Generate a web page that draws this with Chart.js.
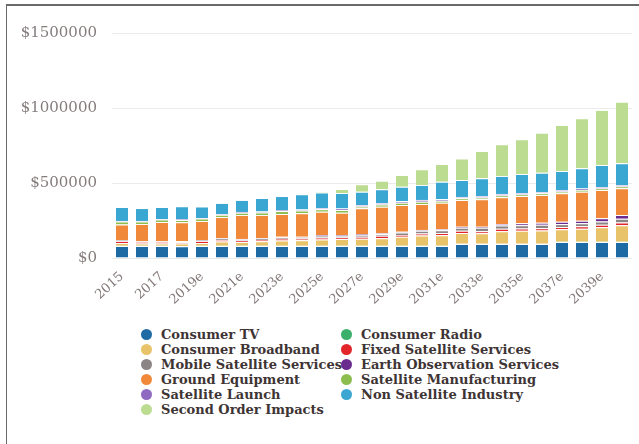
<!DOCTYPE html>
<html lang="en">
<head>
    <meta charset="UTF-8">
    <title>Satellite Industry Impacts</title>
    <script src="https://cdn.jsdelivr.net/npm/chart.js"></script>
    <style>
        body { margin: 0; background: #fff; }
        #frame {
            position: absolute; left: 6px; top: 4px; width: 640px; height: 450px;
            border-top: 2px solid #6a6a6a; border-left: 1px solid #6a6a6a;
        }
        #wrap { position: absolute; left: 0; top: 0; width: 639px; height: 320px; }
        #legend {
            position: absolute; left: 141px; top: 327px;
            display: grid; grid-template-columns: 200px 200px; grid-auto-rows: 15px;
            font: bold 13px "DejaVu Serif", serif; color: #3e3434;
        }
        #legend div { display: flex; align-items: center; white-space: nowrap; }
        #legend span.dot { width: 11px; height: 11px; border-radius: 50%; margin-right: 9px; flex: none; }
    </style>
</head>
<body>
    <div id="frame"></div>
    <div id="wrap"><canvas id="impactChart"></canvas></div>
    <div id="legend"></div>

    <script>
        // values in thousands of dollars
        const years = ['2015', '2016', '2017', '2018e', '2019e', '2020e', '2021e', '2022e', '2023e',
            '2024e', '2025e', '2026e', '2027e', '2028e', '2029e', '2030e', '2031e', '2032e', '2033e',
            '2034e', '2035e', '2036e', '2037e', '2038e', '2039e', '2040e'];

        const consumerTV = [80, 80, 80, 78, 80, 80, 80, 80, 80, 80, 80, 80, 80, 80, 80, 80, 80, 93, 93, 93, 93, 93, 107, 107, 107, 107];
        const consumerRadio = [2, 2, 2, 2, 2, 2, 2, 2, 2, 2, 2, 2, 2, 2, 2, 2, 2, 2, 2, 2, 2, 2, 2, 2, 2, 2];
        const consumerBroadband = [18, 14, 14, 16, 18, 28, 24, 30, 35, 36, 42, 44, 46, 50, 60, 68, 70, 72, 70, 84, 86, 88, 82, 86, 96, 110];
        const fixedSatellite = [14, 12, 12, 9, 14, 10, 10, 8, 12, 12, 13, 10, 14, 16, 12, 14, 15, 14, 14, 16, 16, 16, 15, 16, 16, 18];
        const mobileSatellite = [4, 4, 4, 5, 5, 10, 8, 10, 10, 9, 12, 13, 12, 12, 16, 17, 18, 20, 22, 22, 22, 22, 20, 20, 22, 24];
        const earthObservation = [2, 1, 1, 1, 1, 3, 3, 3, 3, 3, 4, 4, 4, 5, 5, 6, 6, 8, 8, 10, 12, 14, 16, 18, 22, 26];
        const groundEquipment = [103, 114, 127, 127, 127, 140, 160, 154, 151, 156, 156, 149, 173, 177, 178, 173, 178, 178, 182, 178, 182, 185, 189, 193, 188, 178];
        const satManufacturing = [20, 16, 16, 16, 16, 15, 15, 17, 20, 18, 16, 18, 12, 14, 15, 15, 13, 11, 12, 12, 11, 11, 12, 12, 11, 12];
        const satLaunch = [4, 4, 4, 4, 4, 5, 5, 6, 7, 7, 8, 10, 10, 11, 12, 12, 11, 9, 10, 10, 9, 9, 10, 9, 9, 10];
        const nonSatellite = [93, 86, 80, 87, 76, 74, 80, 90, 93, 102, 104, 103, 89, 91, 95, 100, 116, 113, 118, 120, 127, 129, 127, 135, 147, 144];
        const secondOrder = [0, 0, 0, 0, 0, 0, 0, 0, 0, 0, 5, 27, 49, 57, 78, 104, 118, 144, 182, 211, 231, 266, 307, 333, 367, 411];

        const yTicks = [0, 500000, 1000000, 1500000];

        const series = [
            ['Consumer TV', consumerTV, '#1d6aa5'],
            ['Consumer Radio', consumerRadio, '#3bb06a'],
            ['Consumer Broadband', consumerBroadband, '#e9c36a'],
            ['Fixed Satellite Services', fixedSatellite, '#e2262b'],
            ['Mobile Satellite Services', mobileSatellite, '#8c8585'],
            ['Earth Observation Services', earthObservation, '#6b2c8f'],
            ['Ground Equipment', groundEquipment, '#f08a3a'],
            ['Satellite Manufacturing', satManufacturing, '#8ebd4f'],
            ['Satellite Launch', satLaunch, '#8e6ac0'],
            ['Non Satellite Industry', nonSatellite, '#3aa6d2'],
            ['Second Order Impacts', secondOrder, '#bcdc92']
        ];

        const ctx = document.getElementById('impactChart').getContext('2d');
        const chart = new Chart(ctx, {
            type: 'bar',
            data: {
                labels: years,
                datasets: series.map(s => ({
                    label: s[0],
                    data: s[1].map(v => v * 1000),
                    backgroundColor: s[2],
                    borderColor: '#ffffff',
                    borderWidth: { top: 1, bottom: 0, left: 0, right: 0 },
                    borderSkipped: false,
                    barPercentage: 0.6,
                    categoryPercentage: 1.0
                }))
            },
            options: {
                responsive: true,
                maintainAspectRatio: false,
                animation: false,
                layout: { padding: { left: 12, right: 7, top: 33, bottom: 0 } },
                plugins: { legend: { display: false }, tooltip: { enabled: false } },
                scales: {
                    x: {
                        stacked: true,
                        grid: { display: false },
                        border: { display: false },
                        ticks: {
                            autoSkip: false,
                            maxRotation: 42,
                            minRotation: 42,
                            padding: 3,
                            color: '#837878',
                            font: { family: 'DejaVu Serif', size: 13 },
                            callback: function (val, i) { return i % 2 === 0 ? this.getLabelForValue(val) : ''; }
                        },
                        afterFit: scale => { scale.height = 62; }
                    },
                    y: {
                        stacked: true,
                        min: 0,
                        max: 1500000,
                        afterBuildTicks: scale => { scale.ticks = yTicks.map(v => ({ value: v })); },
                        grid: { color: '#ebebeb', drawTicks: false },
                        border: { display: false },
                        ticks: {
                            padding: 15,
                            color: '#857c7c',
                            font: { family: 'DejaVu Serif', size: 15 },
                            callback: v => '$' + v
                        },
                        afterFit: scale => { scale.width = 100; }
                    }
                }
            }
        });

        // two-column legend like the original
        const legend = document.getElementById('legend');
        chart.data.datasets.forEach(ds => {
            const item = document.createElement('div');
            const dot = document.createElement('span');
            dot.className = 'dot';
            dot.style.background = ds.backgroundColor;
            item.appendChild(dot);
            item.appendChild(document.createTextNode(ds.label));
            legend.appendChild(item);
        });
    </script>
</body>
</html>
